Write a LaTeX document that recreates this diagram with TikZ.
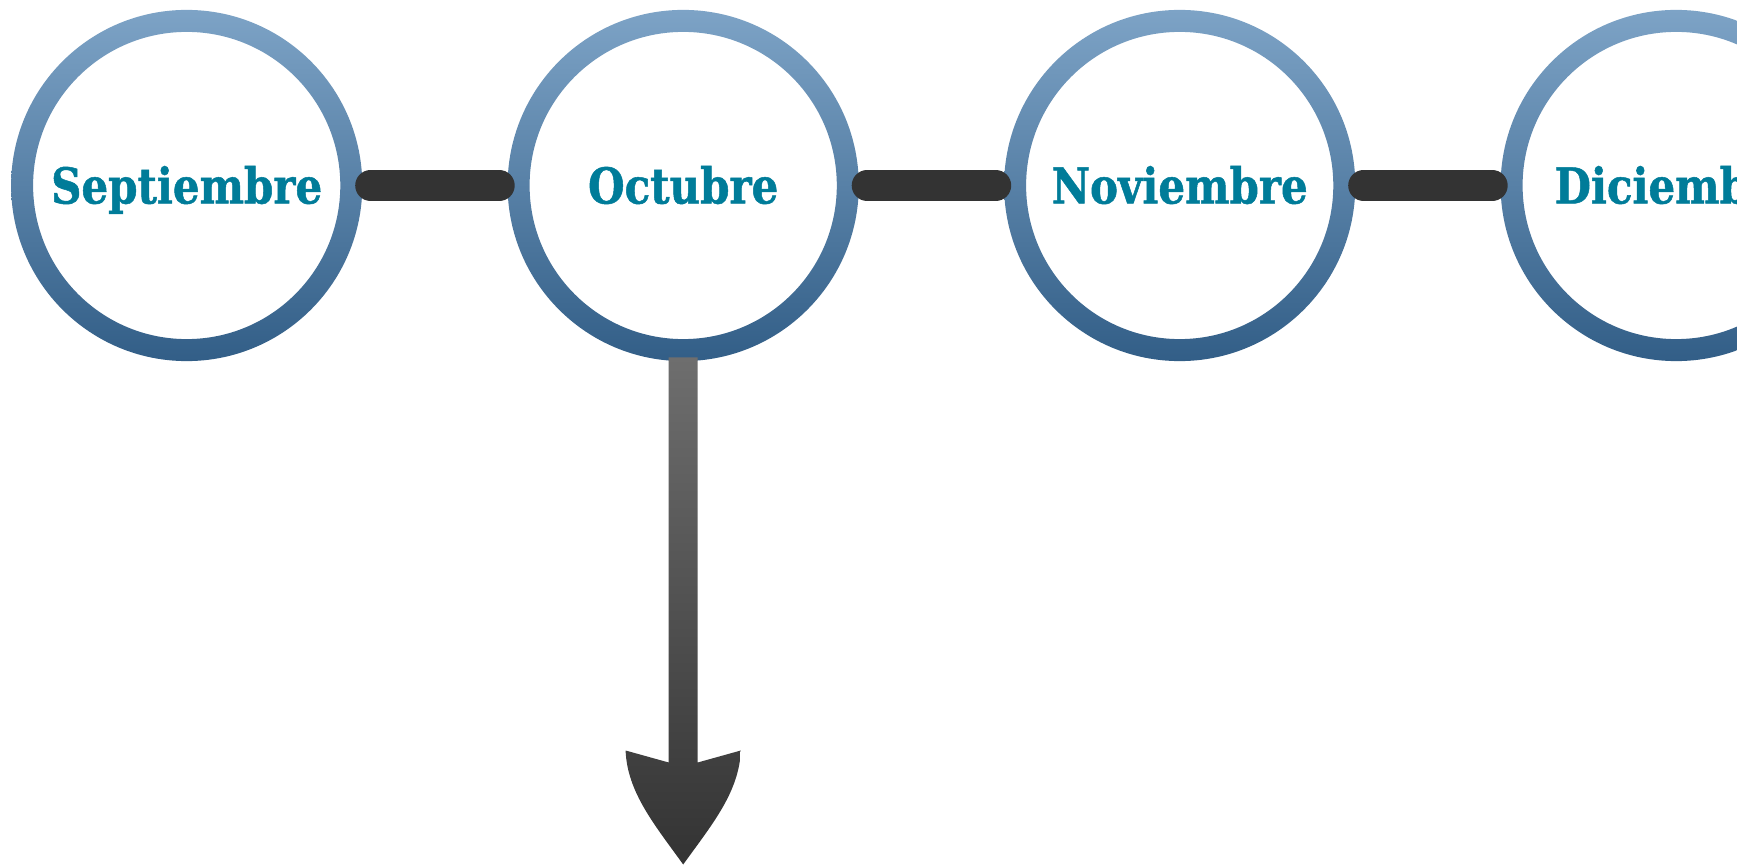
\documentclass[tikz,border=0pt]{standalone}
\usepackage{fontspec}
\newfontfamily\monthfont{DejaVu Serif}[FakeStretch=0.85, BoldFeatures={FakeBold=1}]
\usetikzlibrary{positioning}
\definecolor{ringtop}{HTML}{7DA3C6}
\definecolor{ringbot}{HTML}{325E87}
\definecolor{monthtext}{HTML}{007C99}
\definecolor{barcolor}{HTML}{333333}
\definecolor{shafttop}{HTML}{6E6E6E}

\begin{document}
\begin{tikzpicture}[
  x=0.5pt, y=-0.5pt,
  month/.style={circle, minimum size=175.6pt, inner sep=0pt,
    text height=18pt, text depth=0pt,
    font=\monthfont\bfseries\fontsize{24.7}{29}\selectfont, text=monthtext}, % rings are shaded below
  link/.style={draw=barcolor, line width=15.5pt, line cap=round},
  node distance=72.25pt
]
  \useasboundingbox (0,0) rectangle (1737,866);

  \node[month] (sep) at (186.7,185.5) {Septiembre};
  \node[month, right=of sep] (oct) {Octubre};
  \node[month, right=of oct] (nov) {Noviembre};
  \node[month, right=of nov] (dic) {Diciembre};

  % rings
  \foreach \m in {sep,oct,nov,dic}
    \shade[top color=ringtop, bottom color=ringbot, even odd rule]
      (\m.center) circle (87.8pt) (\m.center) circle (76.8pt);

  % links
  \draw[link] ([xshift=4pt]sep.east) -- ([xshift=-4pt]oct.west);
  \draw[link] ([xshift=4pt]oct.east) -- ([xshift=-4pt]nov.west);
  \draw[link] ([xshift=4pt]nov.east) -- ([xshift=-4pt]dic.west);

  % arrow down from Octubre
  \shade[top color=shafttop, bottom color=barcolor, shift={([yshift=2pt]oct.south)}]
    (-14.5,0) -- (-14.5,405) -- (-57.6,393)
    .. controls (-56,435) and (-28,468) .. (0,507)
    .. controls (28,468) and (56,435) .. (57.6,393)
    -- (14.5,405) -- (14.5,0) -- cycle;
\end{tikzpicture}
\end{document}
